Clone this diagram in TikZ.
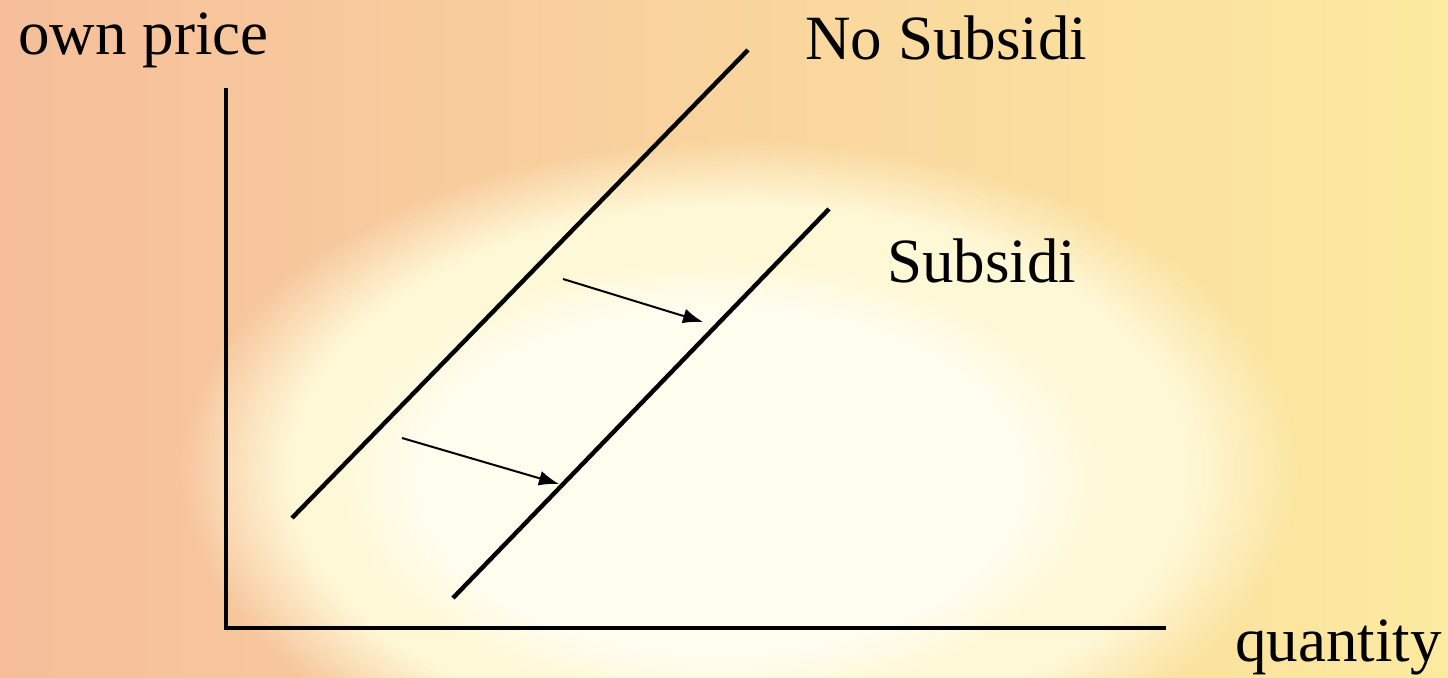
\documentclass[tikz,border=0pt]{standalone}
\usepackage{fontspec}
\setmainfont{Liberation Serif}
\usetikzlibrary{arrows.meta,fadings}
\definecolor{bgleft}{RGB}{246,190,155}
\definecolor{bgright}{RGB}{252,234,160}
\definecolor{glowout}{RGB}{255,248,215}
\definecolor{glowin}{RGB}{255,253,238}

\begin{document}
\begin{tikzpicture}[x=0.5pt,y=-0.5pt,
        axisline/.style={line width=2.2pt},
        supply/.style={line width=2.2pt},
        shiftarrow/.style={line width=1pt,-{Latex[length=10pt,width=7.5pt]}},
        lbl/.style={anchor=base west,inner sep=0pt,font=\fontsize{31.5}{36}\selectfont}]
        % background
        \useasboundingbox (0,0) rectangle (1448,678);
        \begin{scope}
            \clip (0,0) rectangle (1448,678);
            \shade[left color=bgleft,right color=bgright] (0,0) rectangle (1448,678);
            \fill[glowout,path fading=circle with fuzzy edge 20 percent]
                (740,470) ellipse (560 and 330);
            \fill[glowin,path fading=circle with fuzzy edge 20 percent]
                (720,480) ellipse (380 and 220);
        \end{scope}
        % axes
        \coordinate (top) at (226,88);
        \coordinate (o) at (226,628);
        \coordinate (right) at (1166,628);
        \draw[axisline] (top) -- (o) -- (right);
        % curves
        \coordinate (ns1) at (292,518);
        \coordinate (ns2) at (748,50);
        \coordinate (s1) at (453,598);
        \coordinate (s2) at (829,209);
        \draw[supply] (ns1) -- (ns2);
        \draw[supply] (s1) -- (s2);
        % shift
        \coordinate (a1) at (563,279);
        \coordinate (b1) at (703,322);
        \coordinate (a2) at (402,438);
        \coordinate (b2) at (559,484);
        \draw[shiftarrow] (a1) -- (b1);
        \draw[shiftarrow] (a2) -- (b2);
        % labels
        \node[lbl] (ylbl) at (18,55) {own price};
        \node[lbl] (xlbl) at (1235,662) {quantity};
        \node[lbl] (nolbl) at (805,60) {No Subsidi};
        \node[lbl] (sublbl) at (887,283) {Subsidi};
\end{tikzpicture}
\end{document}
